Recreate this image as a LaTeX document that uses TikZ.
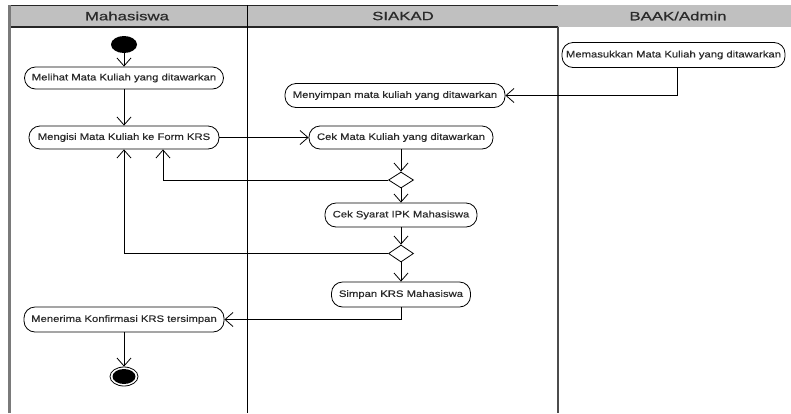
\documentclass[tikz,border=0pt]{standalone}
\usepackage{fontspec}
\setmainfont{Liberation Sans}
\newfontfamily\actfont{Liberation Sans}[FakeStretch=1.2,FakeBold=0.3]
\newfontfamily\lanefont{Liberation Sans}[FakeStretch=1.4,FakeBold=0.8]
\usetikzlibrary{arrows.meta,shapes.geometric}
\definecolor{lanegray}{HTML}{C0C0C0}
\definecolor{edgegray}{HTML}{7A7A7A}
\definecolor{inktext}{HTML}{2A2A2A}
\tikzset{
  activity/.style={draw, line width=0.8pt, rounded corners=11pt, inner sep=0pt,
    font={\actfont\fontsize{9.4}{11}\selectfont}, text=inktext},
  decision/.style={draw, diamond, line width=0.8pt, inner sep=0pt,
    minimum width=25pt, minimum height=16pt},
  lanehead/.style={font={\lanefont\fontsize{12}{14}\selectfont}, text=inktext, inner sep=0pt},
  flow/.style={-{Straight Barb[length=8pt,width=14pt]}, line width=0.8pt},
}
\begin{document}
\begin{tikzpicture}[x=1pt,y=-1pt]
\useasboundingbox (0,0) rectangle (791,413);
% swimlane frame
\fill[lanegray] (8,5) rectangle (791,27);
\draw[line width=1.2pt, black!85] (8,5.5) -- (558,5.5);
\draw[line width=1.2pt, black!85] (8,27) -- (558,27);
\draw[line width=2.4pt, edgegray] (9.5,5) -- (9.5,413);
\draw[line width=0.8pt, black] (247,5) -- (247,413);
\draw[line width=1.5pt, black!70] (558,27) -- (558,413);
\node[lanehead] (laneA) at (127,16) {Mahasiswa};
\node[lanehead] (laneB) at (403,16) {SIAKAD};
\node[lanehead] (laneC) at (678,16) {BAAK/Admin};

% activities
\node[ellipse, fill=black, inner sep=0pt, minimum width=26pt, minimum height=17pt] (start) at (124,44.5) {};
\node[activity, minimum width=199pt, minimum height=22pt] (melihat) at (124,78) {Melihat Mata Kuliah yang ditawarkan};
\node[activity, minimum width=190pt, minimum height=23pt] (mengisi) at (124,137.5) {Mengisi Mata Kuliah ke Form KRS};
\node[activity, minimum width=223pt, minimum height=25pt] (masuk) at (673.5,55) {Memasukkan Mata Kuliah yang ditawarkan};
\node[activity, minimum width=220pt, minimum height=24pt] (simpanmk) at (395,95.5) {Menyimpan mata kuliah yang ditawarkan};
\node[activity, minimum width=184pt, minimum height=23pt] (cekmk) at (401,137.5) {Cek Mata Kuliah yang ditawarkan};
\node[decision] (d1) at (401,180) {};
\node[activity, minimum width=152pt, minimum height=24pt] (cekipk) at (401,215) {Cek Syarat IPK Mahasiswa};
\node[decision, minimum height=17pt] (d2) at (401,253.5) {};
\node[activity, minimum width=139pt, minimum height=25pt] (simpankrs) at (401,294.5) {Simpan KRS Mahasiswa};
\node[activity, minimum width=200pt, minimum height=25pt] (terima) at (124,319.5) {Menerima Konfirmasi KRS tersimpan};
\node[ellipse, draw, fill=white, line width=0.8pt, inner sep=0pt, minimum width=28pt, minimum height=19pt] (finish) at (124,376.5) {};
\node[ellipse, fill=black, inner sep=0pt, minimum width=23pt, minimum height=15pt] (finishcore) at (finish) {};

% control flow
\draw[flow] (start) -- (melihat);
\draw[flow] (melihat) -- (mengisi);
\draw[flow] (mengisi.east) -- (cekmk.west);
\draw[flow] ([xshift=3.5pt]masuk.south) |- (simpanmk.east);
\draw[flow] (cekmk) -- (d1);
\draw[flow] (d1.west) -| ([xshift=39pt]mengisi.south);
\draw[flow] (d1) -- (cekipk);
\draw[flow] (cekipk) -- (d2);
\draw[flow] (d2.west) -| (mengisi.south);
\draw[flow] (d2) -- (simpankrs);
\draw[flow] (simpankrs.south) |- (terima.east);
\draw[flow] (terima) -- (finish);
\end{tikzpicture}
\end{document}
